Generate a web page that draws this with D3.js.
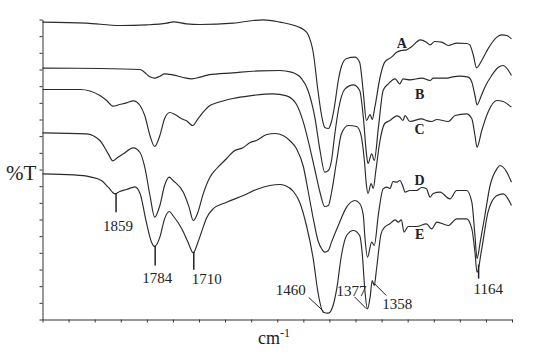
<!DOCTYPE html>
<html>
<head>
<meta charset="utf-8">
<script src="https://cdn.jsdelivr.net/npm/d3@7"></script>
<style>
  body { margin: 0; background: #fff; }
</style>
</head>
<body>
<div id="chart"></div>
<script>
// IR spectra, [wavenumber cm-1, %T]
const specA = [[2000,89.2],[1916,88.9],[1851,88.2],[1800,88.4],[1762,88.9],[1749,89.3],[1724,88.7],[1698,88.5],[1634,88.9],[1596,89.7],[1577,89.9],[1545,89.2],[1510,87.8],[1500,87.0],[1491,85.5],[1481,80.1],[1472,68.7],[1465,61.2],[1459,57.6],[1452,57.3],[1446,59.4],[1440,64.2],[1433,71.7],[1427,75.9],[1417,78.3],[1401,78.7],[1392,77.1],[1385,68.1],[1379,59.7],[1372,61.5],[1368,60.0],[1363,63.6],[1353,72.6],[1344,77.2],[1331,78.7],[1321,80.2],[1312,80.7],[1302,80.9],[1292,81.9],[1276,83.9],[1264,83.2],[1257,82.4],[1248,83.4],[1235,83.2],[1222,82.2],[1206,82.9],[1187,82.8],[1181,82.4],[1174,79.2],[1168,75.5],[1158,77.7],[1146,81.2],[1129,84.7],[1120,85.4],[1110,85.2],[1101,84.2]];

const specB = [[2000,75.4],[1890,75.3],[1813,75.0],[1801,73.7],[1794,72.8],[1785,72.4],[1775,73.0],[1766,73.7],[1750,73.4],[1730,72.6],[1714,72.2],[1698,72.7],[1682,73.4],[1635,74.0],[1583,74.6],[1545,74.7],[1523,74.2],[1503,72.2],[1491,68.7],[1478,60.7],[1468,50.7],[1459,44.2],[1452,44.7],[1446,47.7],[1440,55.2],[1433,62.7],[1420,69.2],[1404,70.4],[1392,68.7],[1385,60.7],[1379,49.7],[1376,46.8],[1369,49.7],[1364,47.7],[1356,57.7],[1347,68.7],[1337,70.7],[1324,72.2],[1315,70.7],[1309,72.2],[1296,71.9],[1273,72.4],[1257,71.7],[1251,72.4],[1225,72.4],[1216,72.7],[1200,73.0],[1184,72.7],[1177,71.2],[1171,67.2],[1167,64.4],[1160,66.7],[1152,69.7],[1139,73.2],[1126,75.7],[1117,76.2],[1101,73.2]];

const specC = [[2000,69.0],[1928,69.0],[1890,67.2],[1877,65.7],[1865,64.0],[1852,64.5],[1839,65.0],[1826,65.6],[1813,64.2],[1804,61.2],[1794,55.2],[1785,51.9],[1775,55.2],[1766,60.2],[1756,62.1],[1746,61.5],[1733,60.2],[1724,59.6],[1712,58.2],[1702,60.2],[1692,62.2],[1679,64.2],[1666,65.0],[1635,66.3],[1603,67.1],[1558,67.7],[1532,67.1],[1513,64.5],[1500,59.2],[1487,51.2],[1478,45.0],[1468,38.1],[1459,33.9],[1452,34.2],[1446,38.1],[1436,47.7],[1427,55.7],[1414,58.2],[1398,57.9],[1390,55.7],[1383,47.7],[1379,40.2],[1376,37.8],[1370,40.8],[1366,39.3],[1361,44.7],[1353,53.7],[1344,58.8],[1334,59.7],[1321,61.1],[1315,60.7],[1309,59.7],[1305,61.2],[1296,59.4],[1273,60.2],[1264,59.7],[1254,59.4],[1244,60.0],[1222,59.4],[1209,61.2],[1187,61.7],[1177,60.2],[1171,55.2],[1167,51.7],[1158,56.7],[1146,62.2],[1129,65.7],[1117,65.4],[1101,63.7]];

const specD = [[2000,56.0],[1916,55.7],[1890,53.7],[1874,49.7],[1865,47.6],[1856,48.6],[1845,49.7],[1826,51.5],[1813,50.1],[1804,45.7],[1794,37.2],[1785,30.7],[1775,34.2],[1766,40.2],[1757,42.7],[1750,41.7],[1730,38.2],[1719,33.7],[1711,29.7],[1702,32.2],[1692,37.7],[1679,42.7],[1666,45.3],[1647,48.3],[1634,50.4],[1615,51.6],[1602,53.1],[1590,53.7],[1570,55.5],[1554,55.8],[1539,55.2],[1526,53.7],[1513,51.2],[1500,45.9],[1491,38.7],[1481,30.3],[1472,23.7],[1464,21.0],[1459,20.2],[1452,20.7],[1446,23.2],[1433,28.2],[1417,33.7],[1401,35.7],[1392,34.8],[1385,31.2],[1382,24.7],[1377,18.7],[1369,23.2],[1364,22.2],[1356,31.7],[1347,39.2],[1340,39.7],[1334,39.3],[1328,41.4],[1321,41.2],[1315,41.7],[1309,39.9],[1305,38.2],[1296,38.7],[1283,38.7],[1273,39.6],[1264,39.2],[1257,36.7],[1251,37.8],[1238,38.2],[1219,36.2],[1206,38.7],[1187,38.7],[1177,35.2],[1171,25.2],[1167,18.3],[1161,23.2],[1152,31.2],[1142,40.2],[1129,45.2],[1123,46.2],[1110,44.2],[1101,41.2]];

const specE = [[2000,43.7],[1941,43.4],[1909,42.8],[1887,41.7],[1874,39.7],[1861,37.7],[1852,38.4],[1839,39.0],[1823,39.8],[1813,37.8],[1801,29.2],[1791,23.2],[1785,21.9],[1775,24.7],[1766,30.2],[1757,32.4],[1750,31.2],[1733,27.2],[1721,23.2],[1711,20.0],[1702,23.2],[1692,27.7],[1686,30.3],[1673,33.2],[1647,35.2],[1615,37.2],[1590,39.0],[1564,40.2],[1545,40.5],[1535,40.2],[1519,38.4],[1507,35.2],[1494,28.2],[1481,18.2],[1472,8.2],[1462,2.2],[1452,1.9],[1443,4.2],[1436,9.2],[1427,19.2],[1417,25.2],[1404,26.7],[1392,25.2],[1387,19.7],[1382,8.7],[1377,3.2],[1372,6.7],[1368,11.7],[1364,10.2],[1360,14.7],[1351,25.7],[1344,27.7],[1334,28.7],[1324,29.9],[1318,29.2],[1312,29.9],[1307,26.2],[1299,27.9],[1283,27.9],[1264,28.7],[1254,27.2],[1244,29.2],[1222,28.2],[1206,30.2],[1187,30.2],[1177,27.2],[1171,20.2],[1167,14.1],[1158,21.2],[1146,32.2],[1129,37.2],[1117,37.7],[1101,34.2]];

const seriesNames = ["A", "B", "C", "D", "E"];
const peakMarks = [1859, 1784, 1710, 1460, 1377, 1358, 1164];
const xTicks = d3.range(2000, 1099, -50);
const yTicks = d3.range(0, 91, 5);

const width = 555, height = 360;
const serif = "'Liberation Serif', 'Times New Roman', serif";

const svg = d3.select("#chart")
    .append("svg")
    .attr("width", width)
    .attr("height", height);

// scales
const x = d3.scaleLinear().domain([2000, 1100]).range([42.5, 512]);
const y = d3.scaleLinear().domain([0, 90]).range([319.5, 19.5]);

// axes, no tick labels
svg.append("g")
    .attr("transform", "translate(0,319.5)")
    .call(d3.axisBottom(x).tickValues(xTicks).tickFormat("").tickSize(3).tickSizeOuter(0))
    .call(g => g.selectAll("path,line").attr("stroke", "#333"));

svg.append("g")
    .attr("transform", "translate(42.5,0)")
    .call(d3.axisLeft(y).tickValues(yTicks).tickFormat("").tickSize(3).tickSizeOuter(0))
    .call(g => g.selectAll("path,line").attr("stroke", "#333"));

// spectra
const line = d3.line()
    .x(d => x(d[0]))
    .y(d => y(d[1]))
    .curve(d3.curveMonotoneX);

const spectra = [specA, specB, specC, specD, specE];
svg.append("g")
    .selectAll("path")
    .data(spectra)
    .enter().append("path")
    .attr("fill", "none")
    .attr("stroke", "#2a2a2a")
    .attr("stroke-width", 1.15)
    .attr("d", line);

// curve letters
const letterPos = [[1311, 81.6], [1277, 66.3], [1277, 55.8], [1277, 40.5], [1277, 24.3]];
svg.append("g")
    .selectAll("text")
    .data(seriesNames)
    .enter().append("text")
    .attr("x", (d, i) => x(letterPos[i][0]))
    .attr("y", (d, i) => y(letterPos[i][1]))
    .attr("text-anchor", "middle")
    .style("font-family", serif)
    .style("font-weight", "bold")
    .style("font-size", "14px")
    .attr("fill", "#222")
    .text(d => d);

// value of spectrum E at a wavenumber (linear between points)
function valueAt(spec, wn) {
    for (let i = 1; i < spec.length; i++) {
        if (spec[i][0] <= wn) {
            const a = spec[i - 1], b = spec[i];
            const t = (a[0] - wn) / (a[0] - b[0]);
            return a[1] + t * (b[1] - a[1]);
        }
    }
    return spec[spec.length - 1][1];
}

// peak markers on curve E
const marks = svg.append("g")
    .attr("stroke", "#222")
    .style("font-family", serif)
    .style("font-size", "15px");

const layout = {
    1859: { at: 1859, line: [0, 0, 0, 19], text: [2, 38], anchor: "middle" },
    1784: { at: 1784, line: [0, 0, 0, 20], text: [2, 37], anchor: "middle" },
    1710: { at: 1710, line: [0, 0, 0, 18], text: [-2, 32], anchor: "start" },
    1460: { at: 1459, line: [-1, -1, -16, -15], text: [-19, -17], anchor: "end" },
    1377: { at: 1377, line: [-1, 0, -13, -12], text: [-1, -13], anchor: "end" },
    1358: { at: 1364, line: [0, -2, 12, 10], text: [8, 23], anchor: "start" },
    1164: { at: 1164, line: [0, 0, 0, 14], text: [-5, 29], anchor: "start" }
};

peakMarks.forEach(p => {
    const L = layout[p];
    const px = x(L.at), py = y(valueAt(specE, L.at));
    marks.append("line")
        .attr("x1", px + L.line[0]).attr("y1", py + L.line[1])
        .attr("x2", px + L.line[2]).attr("y2", py + L.line[3])
        .attr("stroke-width", p === 1859 || p === 1784 || p === 1710 || p === 1164 ? 1.5 : 1);
    marks.append("text")
        .attr("x", px + L.text[0])
        .attr("y", py + L.text[1])
        .attr("text-anchor", L.anchor)
        .attr("stroke", "none")
        .attr("fill", "#222")
        .text(p);
});

// axis titles
svg.append("text")
    .attr("x", 6)
    .attr("y", 180)
    .style("font-family", serif)
    .style("font-size", "21px")
    .attr("fill", "#222")
    .text("%T");

const xt = svg.append("text")
    .attr("x", 258)
    .attr("y", 344)
    .style("font-family", serif)
    .style("font-size", "18px")
    .attr("fill", "#222")
    .text("cm");
xt.append("tspan")
    .attr("dy", -7)
    .style("font-size", "12px")
    .text("-1");
</script>
</body>
</html>
